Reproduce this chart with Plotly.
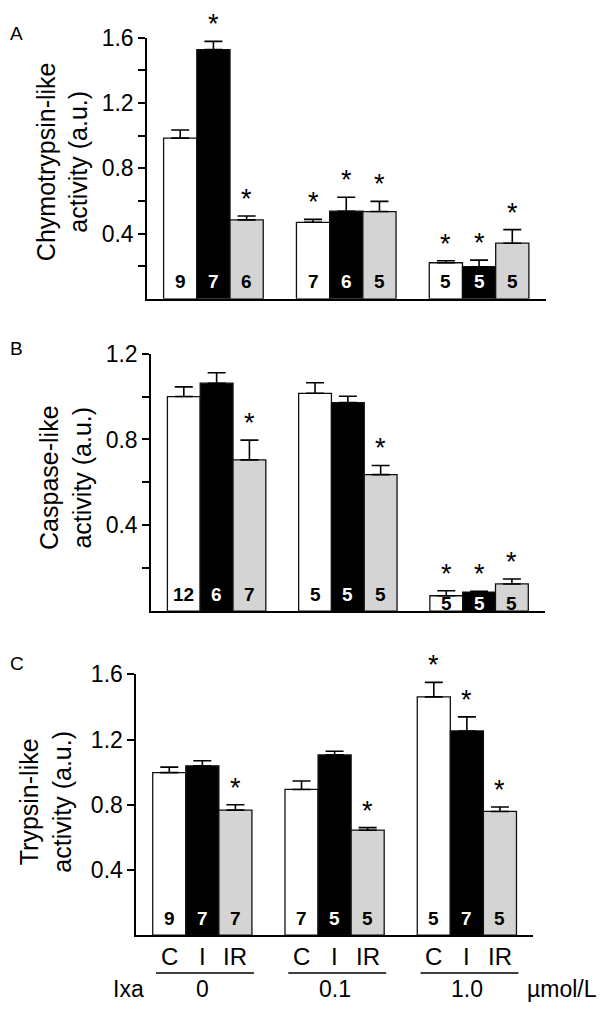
import plotly.graph_objects as go

# ---------------- data ----------------
groups = ["0", "0.1", "1.0"]          # Ixa concentration (µmol/L)
conditions = ["C", "I", "IR"]
bar_colors = ["#ffffff", "#000000", "#d4d4d4"]

# Panel A: chymotrypsin-like
chymo_C = [0.985, 0.469, 0.221]
chymo_I = [1.528, 0.537, 0.197]
chymo_IR = [0.484, 0.535, 0.341]
chymo_C_err = [0.050, 0.018, 0.012]
chymo_I_err = [0.050, 0.086, 0.040]
chymo_IR_err = [0.024, 0.062, 0.083]
chymo_C_n = [9, 7, 5]
chymo_I_n = [7, 6, 5]
chymo_IR_n = [6, 5, 5]
chymo_C_sig = [False, True, True]
chymo_I_sig = [True, True, True]
chymo_IR_sig = [True, True, True]

# Panel B: caspase-like
casp_C = [1.000, 1.015, 0.072]
casp_I = [1.062, 0.972, 0.089]
casp_IR = [0.705, 0.636, 0.127]
casp_C_err = [0.045, 0.049, 0.023]
casp_I_err = [0.049, 0.029, 0.004]
casp_IR_err = [0.092, 0.043, 0.023]
casp_C_n = [12, 5, 5]
casp_I_n = [6, 5, 5]
casp_IR_n = [7, 5, 5]
casp_C_sig = [False, False, True]
casp_I_sig = [False, False, True]
casp_IR_sig = [True, True, True]

# Panel C: trypsin-like
tryp_C = [0.997, 0.894, 1.462]
tryp_I = [1.039, 1.106, 1.253]
tryp_IR = [0.767, 0.644, 0.759]
tryp_C_err = [0.034, 0.052, 0.089]
tryp_I_err = [0.031, 0.022, 0.086]
tryp_IR_err = [0.033, 0.016, 0.027]
tryp_C_n = [9, 7, 5]
tryp_I_n = [7, 5, 7]
tryp_IR_n = [7, 5, 5]
tryp_C_sig = [False, False, True]
tryp_I_sig = [False, False, True]
tryp_IR_sig = [True, True, True]

# ---------------- layout helpers ----------------
# the page body keeps its default 8px margin, so the figure is made 16px
# smaller and all reference pixel positions are shifted by that margin
PAGE_MARGIN = 8
W, H = 607 - 2 * PAGE_MARGIN, 1012 - 2 * PAGE_MARGIN
FONT = "Liberation Sans, Arial, sans-serif"
NFONT = "Liberation Sans Narrow, Arial Narrow, Liberation Sans, Arial, sans-serif"


def px(x):
    return (x - PAGE_MARGIN) / W


def py(y):
    return 1 - (y - PAGE_MARGIN) / H


panels = [
    dict(letter="A", title="Chymotrypsin-like<br>activity (a.u.)",
         means=[chymo_C, chymo_I, chymo_IR], errs=[chymo_C_err, chymo_I_err, chymo_IR_err],
         ns=[chymo_C_n, chymo_I_n, chymo_IR_n], sigs=[chymo_C_sig, chymo_I_sig, chymo_IR_sig],
         xdom=(147, 545.5), ydom=(25, 289.5), ymax=1.6, step=0.2, labelstep=0.4,
         title_xy=(62, 151), letter_top=8, low_label_groups=[]),
    dict(letter="B", title="Caspase-like<br>activity (a.u.)",
         means=[casp_C, casp_I, casp_IR], errs=[casp_C_err, casp_I_err, casp_IR_err],
         ns=[casp_C_n, casp_I_n, casp_IR_n], sigs=[casp_C_sig, casp_I_sig, casp_IR_sig],
         xdom=(151, 544.7), ydom=(345, 606), ymax=1.2, step=0.2, labelstep=0.4,
         title_xy=(66, 470), letter_top=327, low_label_groups=[2]),
    dict(letter="C", title="Trypsin-like<br>activity (a.u.)",
         means=[tryp_C, tryp_I, tryp_IR], errs=[tryp_C_err, tryp_I_err, tryp_IR_err],
         ns=[tryp_C_n, tryp_I_n, tryp_IR_n], sigs=[tryp_C_sig, tryp_I_sig, tryp_IR_sig],
         xdom=(136.2, 533), ydom=(670, 934.3), ymax=1.6, step=0.4, labelstep=0.4,
         title_xy=(46, 799), letter_top=646, low_label_groups=[]),
]

fig = go.Figure()
annotations = []
shapes = []
xpos = list(range(len(groups)))
offsets = [-0.25, 0.0, 0.25]

for pi, p in enumerate(panels):
    sfx = "" if pi == 0 else str(pi + 1)
    xa, ya = "x" + sfx, "y" + sfx
    for ci, cond in enumerate(conditions):
        fig.add_trace(go.Bar(
            x=xpos, y=p["means"][ci], name=cond, showlegend=False,
            xaxis=xa, yaxis=ya,
            marker=dict(color=bar_colors[ci], line=dict(color="#111111", width=1.3)),
            error_y=dict(type="data", array=p["errs"][ci], arrayminus=[0] * len(xpos),
                         symmetric=False, color="#000000", thickness=1.6, width=9),
        ))
        for gi in xpos:
            xv = gi + offsets[ci]
            # n label
            annotations.append(dict(
                x=xv, y=0, xref=xa, yref=ya, text="<b>%d</b>" % p["ns"][ci][gi],
                showarrow=False, yanchor="middle", xanchor="center",
                yshift=8 if gi in p["low_label_groups"] else 17,
                font=dict(family=NFONT, size=19,
                          color="#ffffff" if cond == "I" else "#000000")))
            if p["sigs"][ci][gi]:
                annotations.append(dict(
                    x=xv, y=p["means"][ci][gi] + p["errs"][ci][gi], xref=xa, yref=ya,
                    text="*", showarrow=False, yanchor="bottom", xanchor="center",
                    yshift=0, font=dict(family=FONT, size=27, color="#000000")))

    # axes
    nsteps = int(round(p["ymax"] / p["step"]))
    tv = [round(p["step"] * (k + 1), 2) for k in range(nsteps)]
    tt = [("%.1f" % v) if abs((v / p["labelstep"]) - round(v / p["labelstep"])) < 1e-6 else "" for v in tv]
    fig.layout["xaxis" + sfx] = dict(
        domain=[px(p["xdom"][0]), px(p["xdom"][1])], range=[-0.5, 2.5],
        anchor=ya, showline=True, linecolor="#000000", linewidth=1.5,
        showticklabels=False, ticks="", showgrid=False, zeroline=False, fixedrange=True)
    fig.layout["yaxis" + sfx] = dict(
        domain=[py(p["ydom"][1]), py(p["ydom"][0])], range=[0, p["ymax"]],
        anchor=xa, showline=True, linecolor="#000000", linewidth=1.5,
        ticks="outside", ticklen=7, tickwidth=1.5, tickcolor="#000000",
        tickvals=tv, ticktext=tt, showgrid=False, zeroline=False,
        tickfont=dict(family=FONT, size=23, color="#000000"), fixedrange=True)

    # y title
    annotations.append(dict(
        x=px(p["title_xy"][0]), y=py(p["title_xy"][1]), xref="paper", yref="paper",
        text=p["title"], textangle=-90, showarrow=False,
        xanchor="center", yanchor="middle",
        font=dict(family=FONT, size=25, color="#000000")))
    # panel letter (at the very left edge of the figure)
    annotations.append(dict(
        x=0, y=py(p["letter_top"]), xref="paper", yref="paper",
        text=p["letter"], showarrow=False, xanchor="left", yanchor="top",
        font=dict(family=FONT, size=19, color="#000000")))

# bottom category labels under panel C
for gi, g in enumerate(groups):
    for ci, cond in enumerate(conditions):
        annotations.append(dict(
            x=gi + offsets[ci], y=py(956), xref="x3", yref="paper", text=cond,
            showarrow=False, xanchor="center", yanchor="middle",
            font=dict(family=FONT, size=24, color="#000000")))
    shapes.append(dict(type="line", xref="x3", yref="paper",
                       x0=gi - 0.35, x1=gi + 0.39, y0=py(972.5), y1=py(972.5),
                       line=dict(color="#000000", width=1.5)))
    annotations.append(dict(
        x=gi, y=0, xref="x3", yref="paper", text=g,
        showarrow=False, xanchor="center", yanchor="bottom",
        font=dict(family=FONT, size=23, color="#000000")))

annotations.append(dict(
    x=px(128), y=0, xref="paper", yref="paper", text="Ixa",
    showarrow=False, xanchor="center", yanchor="bottom",
    font=dict(family=FONT, size=23, color="#000000")))
annotations.append(dict(
    x=1, y=0, xref="paper", yref="paper", text="\u00b5mol/L",
    showarrow=False, xanchor="right", yanchor="bottom",
    font=dict(family=FONT, size=23, color="#000000")))

fig.update_layout(
    width=W, height=H, margin=dict(l=0, r=0, t=0, b=0),
    barmode="group", bargap=0.25, bargroupgap=0,
    plot_bgcolor="#ffffff", paper_bgcolor="#ffffff",
    annotations=annotations, shapes=shapes,
    font=dict(family=FONT, color="#000000"),
)

fig.write_html("out.html")
